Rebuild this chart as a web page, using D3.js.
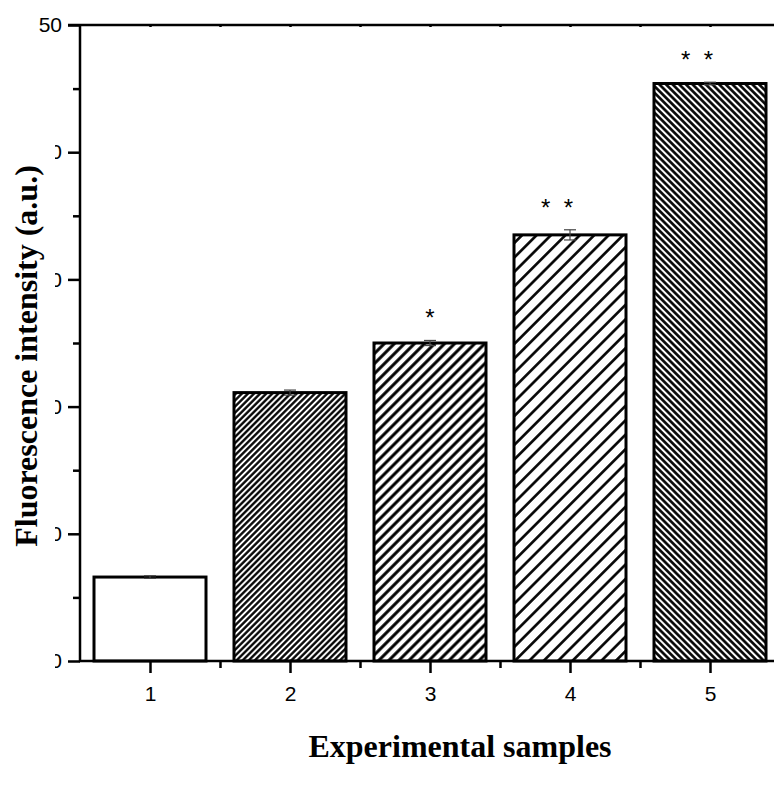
<!DOCTYPE html>
<html>
<head>
<meta charset="utf-8">
<script src="https://cdn.jsdelivr.net/npm/d3@7"></script>
<style>
  body { margin: 0; background: #fff; }
  svg { display: block; }
</style>
</head>
<body>
<script>
// data
var samples = [1, 2, 3, 4, 5];
var intensity = [6.6, 21.1, 25.0, 33.5, 45.4];
var errs = [0.1, 0.2, 0.2, 0.4, 0.1];
var marks = ['', '', '*', '*  *', '*  *'];
var yTicks = [0, 10, 20, 30, 40, 50];
var yMinor = [5, 15, 25, 35, 45];
var xMinor = [1.5, 2.5, 3.5, 4.5, 5.5];

var w = 774, h = 792;
var svg = d3.select('body').append('svg').attr('width', w).attr('height', h);

var x = d3.scaleLinear().domain([0.5, 5.5]).range([80, 780]);
var y = d3.scaleLinear().domain([0, 50]).range([661, 25]);
var bw = 112;

// hatch patterns: [id, spacing, line width, angle]
var hatches = [
  null,
  ['h2', 4.3, 2.3, 45],
  ['h3', 7.1, 3, 45],
  ['h4', 10.2, 2.6, 45],
  ['h5', 4.7, 2.6, -45]
];
var defs = svg.append('defs');
hatches.forEach(function(p){
  if (!p) return;
  var pat = defs.append('pattern')
    .attr('id', p[0])
    .attr('patternUnits', 'userSpaceOnUse')
    .attr('width', p[1]).attr('height', p[1])
    .attr('patternTransform', 'rotate(' + p[3] + ')');
  pat.append('rect').attr('width', p[1]).attr('height', p[1]).attr('fill', '#fff');
  pat.append('line')
    .attr('x1', p[1] / 2).attr('x2', p[1] / 2)
    .attr('y1', -1).attr('y2', p[1] + 1)
    .attr('stroke', '#000').attr('stroke-width', p[2]);
});

var data = samples.map(function(s, i){
  return {s: s, v: intensity[i], e: errs[i], m: marks[i], fill: hatches[i] ? 'url(#' + hatches[i][0] + ')' : '#fff'};
});

// bars
svg.selectAll('rect.bar')
  .data(data)
  .enter()
  .append('rect')
  .attr('class', 'bar')
  .attr('x', function(d){ return x(d.s) - bw / 2; })
  .attr('y', function(d){ return y(d.v); })
  .attr('width', bw)
  .attr('height', function(d){ return y(0) - y(d.v); })
  .attr('fill', function(d){ return d.fill; })
  .attr('stroke', '#000')
  .attr('stroke-width', 3);

// error bars
var eb = svg.selectAll('g.err').data(data).enter().append('g').attr('class', 'err')
  .attr('stroke', '#444').attr('stroke-width', 1.2);
eb.append('line')
  .attr('x1', function(d){ return x(d.s); }).attr('x2', function(d){ return x(d.s); })
  .attr('y1', function(d){ return y(d.v + d.e); }).attr('y2', function(d){ return y(d.v - d.e); });
eb.append('line')
  .attr('x1', function(d){ return x(d.s) - 6; }).attr('x2', function(d){ return x(d.s) + 6; })
  .attr('y1', function(d){ return y(d.v + d.e); }).attr('y2', function(d){ return y(d.v + d.e); });
eb.append('line')
  .attr('x1', function(d){ return x(d.s) - 6; }).attr('x2', function(d){ return x(d.s) + 6; })
  .attr('y1', function(d){ return y(d.v - d.e); }).attr('y2', function(d){ return y(d.v - d.e); });

// significance marks
svg.selectAll('text.star')
  .data(data)
  .enter()
  .append('text')
  .attr('class', 'star')
  .attr('x', function(d){ return x(d.s) + (d.m.length > 1 ? -13 : 0); })
  .attr('y', function(d){ return y(d.v + d.e) - 14; })
  .attr('text-anchor', 'middle')
  .style('white-space', 'pre')
  .style('font-family', 'Liberation Sans, Arial, sans-serif')
  .style('font-size', '24px')
  .text(function(d){ return d.m; });

// axes
var axisFont = 'Liberation Sans, Arial, sans-serif';

svg.append('g').attr('transform', 'translate(80,0)')
  .call(d3.axisLeft(y).tickValues(yTicks).tickSize(12).tickPadding(6).tickFormat(d3.format('d')));
svg.append('g').attr('transform', 'translate(80,0)')
  .call(d3.axisLeft(y).tickValues(yMinor).tickSize(7).tickFormat(''));

svg.append('g').attr('transform', 'translate(0,661)')
  .call(d3.axisBottom(x).tickValues(samples).tickSize(12).tickPadding(13).tickFormat(d3.format('d')));
svg.append('g').attr('transform', 'translate(0,661)')
  .call(d3.axisBottom(x).tickValues(xMinor).tickSize(7).tickFormat(''));

svg.append('g').attr('transform', 'translate(0,25)')
  .call(d3.axisBottom(x).tickValues(samples.concat(xMinor)).tickSize(2).tickFormat(''));

svg.selectAll('.domain').remove();
svg.selectAll('.tick line').attr('stroke', '#000').attr('stroke-width', 2.5);
svg.selectAll('.tick text').style('font-family', axisFont).style('font-size', '21px').attr('fill', '#000');

// axis lines
svg.append('line').attr('x1', 80).attr('x2', 80).attr('y1', 24).attr('y2', 662)
  .attr('stroke', '#000').attr('stroke-width', 2.5);
svg.append('line').attr('x1', 79).attr('x2', w).attr('y1', 661).attr('y2', 661)
  .attr('stroke', '#000').attr('stroke-width', 2.5);
svg.append('line').attr('x1', 68).attr('x2', w).attr('y1', 25).attr('y2', 25)
  .attr('stroke', '#000').attr('stroke-width', 2.5);

// the lower tick labels are cut off in the original
svg.append('rect').attr('x', 0).attr('y', 40).attr('width', 55).attr('height', 640).attr('fill', '#fff');

// titles
svg.append('text')
  .attr('transform', 'translate(37,356) rotate(-90)')
  .attr('text-anchor', 'middle')
  .style('font-family', 'Liberation Serif, Times New Roman, serif')
  .style('font-weight', 'bold')
  .style('font-size', '32px')
  .text('Fluorescence intensity (a.u.)');

svg.append('text')
  .attr('x', 460).attr('y', 757)
  .attr('text-anchor', 'middle')
  .style('font-family', 'Liberation Serif, Times New Roman, serif')
  .style('font-weight', 'bold')
  .style('font-size', '32px')
  .text('Experimental samples');
</script>
</body>
</html>
